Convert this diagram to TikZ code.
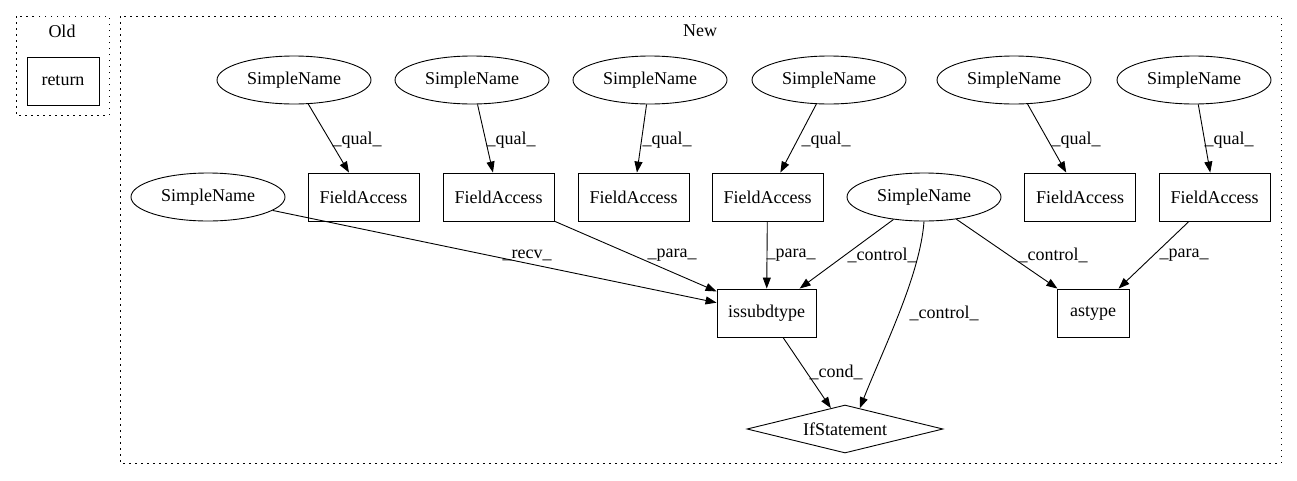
\documentclass[tikz,border=0pt]{standalone}
\usepackage{fontspec}
\setmainfont{Liberation Serif}
\usetikzlibrary{shapes.geometric,arrows.meta,calc}
\begin{document}
\begin{tikzpicture}[x=1pt,y=-1pt,
  every node/.style={font=\fontsize{18}{20}\selectfont, inner sep=0pt},
  sn/.style={draw, ellipse, line width=0.9pt, minimum width=154pt, minimum height=48pt},
  fa/.style={draw, rectangle, line width=0.9pt, minimum width=111pt, minimum height=48pt},
  boxn/.style={draw, rectangle, line width=0.9pt, minimum height=48pt},
  dia/.style={draw, diamond, shape aspect=4, line width=0.9pt, minimum width=196pt, minimum height=48pt},
  edge/.style={line width=0.9pt, -{Triangle[length=11pt,width=8pt]}},
  lbl/.style={},
  cluster/.style={line width=1pt, dash pattern=on 1.5pt off 4.5pt}]
\useasboundingbox (0,0) rectangle (1297,480);
% clusters
\draw[cluster] (16,16) rectangle (109,115);
\draw[cluster] (120,16) rectangle (1281,463);
\node (oldlbl) at (62,31) {Old};
\node (newlbl) at (700,31) {New};
% Old
\node[boxn, minimum width=72pt] (ret) at (63,81) {return};
% top row
\node[sn] (sn1) at (294,80) {SimpleName};
\node[sn] (sn2) at (472,80) {SimpleName};
\node[sn] (sn3) at (650,80) {SimpleName};
\node[sn] (sn4) at (829,80) {SimpleName};
\node[sn] (sn5) at (1014,80) {SimpleName};
\node[sn] (sn6) at (1194,80) {SimpleName};
% second row
\node[sn] (snl) at (208,197) {SimpleName};
\node[fa] (fa1) at (363.5,197) {FieldAccess};
\node[fa] (fa2) at (498.5,197) {FieldAccess};
\node[fa] (fa3) at (633.5,197) {FieldAccess};
\node[fa] (fa4) at (767.5,197) {FieldAccess};
\node[sn] (snm) at (924,197) {SimpleName};
\node[fa] (fa5) at (1080,197) {FieldAccess};
\node[fa] (fa6) at (1214.5,197) {FieldAccess};
% third row
\node[boxn, minimum width=99pt] (iss) at (766.5,313) {issubdtype};
\node[boxn, minimum width=72pt] (ast) at (1093,313) {astype};
\node[dia] (ifs) at (845,429) {IfStatement};
% edges
\draw[edge] (sn1) -- (fa1);
\draw[edge] (sn2) -- (fa2);
\draw[edge] (sn3) -- (fa3);
\draw[edge] (sn4) -- (fa4);
\draw[edge] (sn5) -- (fa5);
\draw[edge] (sn6) -- (fa6);
\draw[edge] (snl) -- (iss);
\draw[edge] (fa2) -- (iss);
\draw[edge] (fa4) -- (iss);
\draw[edge] (snm) -- (iss);
\draw[edge] (snm) -- (ast);
\draw[edge] (fa6) -- (ast);
\draw[edge] (iss) -- (ifs);
\draw[edge] (snm.south) .. controls (920,275) and (885,345) .. ($(ifs.north)!0.15!(ifs.east)$);
% labels
\node[lbl] (l1) at (357,140) {\_qual\_};
\node[lbl] (l2) at (511,140) {\_qual\_};
\node[lbl] (l3) at (667,140) {\_qual\_};
\node[lbl] (l4) at (826,140) {\_qual\_};
\node[lbl] (l5) at (1076,140) {\_qual\_};
\node[lbl] (l6) at (1229,140) {\_qual\_};
\node[lbl] (l7) at (527,255) {\_recv\_};
\node[lbl] (l8) at (672,255) {\_para\_};
\node[lbl] (l9) at (791,255) {\_para\_};
\node[lbl] (l10) at (882,255) {\_control\_};
\node[lbl] (l11) at (944,313) {\_control\_};
\node[lbl] (l12) at (1053,255) {\_control\_};
\node[lbl] (l13) at (1184,255) {\_para\_};
\node[lbl] (l14) at (836,372) {\_cond\_};
\end{tikzpicture}
\end{document}
